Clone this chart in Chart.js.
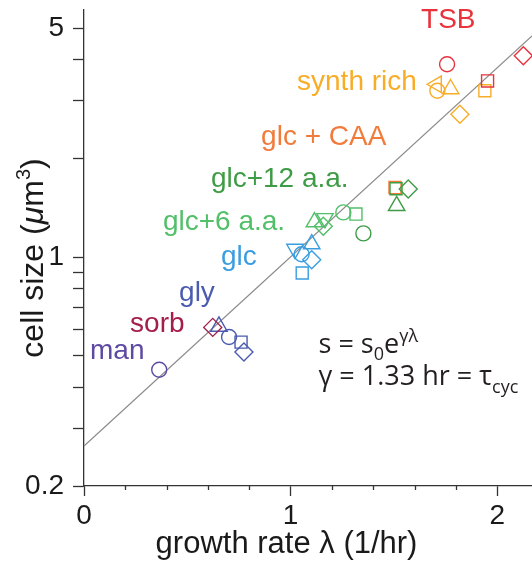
<!DOCTYPE html>
<html>
<head>
<meta charset="utf-8">
<script src="https://cdn.jsdelivr.net/npm/chart.js@4.4.1/dist/chart.umd.min.js"></script>
<style>
  html, body { margin: 0; padding: 0; background: #fff; }
  #wrap { width: 532px; height: 571px; }
</style>
</head>
<body>
<div id="wrap"><canvas id="chart" width="532" height="571"></canvas></div>
<script>
// Cell size vs growth rate for several growth media.
// Fit line: s = s0 * exp(gamma * lambda)
const fitS0 = 0.265;
const fitGamma = 1.33;

const rateRange = [0, 2.168];
const sizeRange = [0.2, 5.68];
const rateTicks = [0, 0.2, 0.4, 0.6, 0.8, 1, 1.2, 1.4, 1.6, 1.8, 2];
const rateTickLabels = [0, 1, 2];
const sizeTicks = [0.2, 0.3, 0.4, 0.5, 0.6, 0.7, 0.8, 0.9, 1, 2, 3, 4, 5];
const sizeTickLabels = [0.2, 1, 5];

const media = ['TSB', 'synth rich', 'glc + CAA', 'glc+12 a.a.', 'glc+6 a.a.', 'glc', 'gly', 'sorb', 'man'];

// growth rate (1/hr), cell size (µm³), marker per measurement
const tsbRate = [1.757, 1.953, 2.126];
const tsbSize = [3.88, 3.45, 4.12];
const tsbMarker = ['o', 's', 'd'];

const synthRate = [1.706, 1.710, 1.774, 1.940, 1.819];
const synthSize = [3.37, 3.22, 3.26, 3.22, 2.73];
const synthMarker = ['<', 'o', '^', 's', 'd'];

const caaRate = [1.505];
const caaSize = [1.63];
const caaMarker = ['s'];

const aa12Rate = [1.352, 1.510, 1.569, 1.513];
const aa12Size = [1.181, 1.616, 1.613, 1.434];
const aa12Marker = ['o', 's', 'd', '^'];

const aa6Rate = [1.115, 1.166, 1.158, 1.255, 1.316];
const aa6Size = [1.279, 1.313, 1.241, 1.369, 1.353];
const aa6Marker = ['^', 'v', 'd', 'o', 's'];

const glcRate = [1.053, 1.021, 1.102, 1.102, 1.056];
const glcSize = [1.02, 1.058, 1.096, 0.981, 0.894];
const glcMarker = ['o', 'v', '^', 'd', 's'];

const glyRate = [0.653, 0.702, 0.760, 0.774];
const glySize = [0.614, 0.570, 0.550, 0.513];
const glyMarker = ['^', 'o', 's', 'd'];

const sorbRate = [0.623];
const sorbSize = [0.610];
const sorbMarker = ['d'];

const manRate = [0.364];
const manSize = [0.453];
const manMarker = ['o'];

const groups = [
  { name: media[0], rate: tsbRate, size: tsbSize, marker: tsbMarker, color: '#e8323c' },
  { name: media[1], rate: synthRate, size: synthSize, marker: synthMarker, color: '#f8ad28' },
  { name: media[3], rate: aa12Rate, size: aa12Size, marker: aa12Marker, color: '#3f9c46' },
  { name: media[2], rate: caaRate, size: caaSize, marker: caaMarker, color: '#f27a3a' },
  { name: media[4], rate: aa6Rate, size: aa6Size, marker: aa6Marker, color: '#52bf69' },
  { name: media[5], rate: glcRate, size: glcSize, marker: glcMarker, color: '#3a9de0' },
  { name: media[7], rate: sorbRate, size: sorbSize, marker: sorbMarker, color: '#a3204b' },
  { name: media[6], rate: glyRate, size: glySize, marker: glyMarker, color: '#4a5bb0' },
  { name: media[8], rate: manRate, size: manSize, marker: manMarker, color: '#5e4aa3' }
];

const markerStyles = {
  'o': { style: 'circle', rotation: 0, radius: 7.5 },
  's': { style: 'rect', rotation: 0, radius: 8.5 },
  'd': { style: 'rectRot', rotation: 0, radius: 9 },
  '^': { style: 'triangle', rotation: 0, radius: 9.5 },
  'v': { style: 'triangle', rotation: 180, radius: 9.5 },
  '<': { style: 'triangle', rotation: -90, radius: 9.5 }
};

// Where each medium's name is written (rate, size of the text's left baseline point)
const nameSpots = {
  'TSB': [1.631, 5.0],
  'synth rich': [1.031, 3.235],
  'glc + CAA': [0.857, 2.197],
  'glc+12 a.a.': [0.614, 1.636],
  'glc+6 a.a.': [0.382, 1.209],
  'glc': [0.663, 0.945],
  'gly': [0.460, 0.734],
  'sorb': [0.223, 0.590],
  'man': [0.029, 0.488]
};

const scatterSets = groups.map((g, gi) => ({
  type: 'scatter',
  label: g.name,
  data: g.rate.map((r, i) => ({ x: r, y: g.size[i] })),
  pointStyle: g.marker.map(m => markerStyles[m].style),
  pointRotation: g.marker.map(m => markerStyles[m].rotation),
  pointRadius: g.marker.map(m => markerStyles[m].radius),
  pointHoverRadius: g.marker.map(m => markerStyles[m].radius),
  borderColor: g.color,
  backgroundColor: 'rgba(0,0,0,0)',
  pointBorderWidth: 1.4,
  order: gi + 1,
  clip: false
}));

const fitSet = {
  type: 'line',
  label: 'fit',
  data: rateRange.map(r => ({ x: r, y: fitS0 * Math.exp(fitGamma * r) })),
  borderColor: '#8c8c8c',
  borderWidth: 1.2,
  pointRadius: 0,
  fill: false,
  order: 100,
  clip: false
};

function drawRich(ctx, x, y, parts, align) {
  let total = 0;
  parts.forEach(p => { ctx.font = p.font; total += ctx.measureText(p.t).width; });
  let cx = align === 'center' ? x - total / 2 : x;
  parts.forEach(p => {
    ctx.font = p.font;
    ctx.fillText(p.t, cx, y + (p.dy || 0));
    cx += ctx.measureText(p.t).width;
  });
}

const SANS = '"Liberation Sans", Arial, sans-serif';

const annotatePlugin = {
  id: 'annotate',
  afterDraw(chart) {
    const { ctx, scales: { x, y }, chartArea } = chart;
    ctx.save();

    // short minor ticks along the rate axis
    ctx.strokeStyle = '#333';
    ctx.lineWidth = 1.3;
    rateTicks.forEach(v => {
      if (rateTickLabels.includes(v)) return;
      const px = Math.round(x.getPixelForValue(v)) + 0.5;
      ctx.beginPath();
      ctx.moveTo(px, chartArea.bottom);
      ctx.lineTo(px, chartArea.bottom + 4);
      ctx.stroke();
    });

    // medium names
    ctx.textBaseline = 'alphabetic';
    ctx.textAlign = 'left';
    ctx.font = '28px ' + SANS;
    groups.forEach(g => {
      const spot = nameSpots[g.name];
      ctx.fillStyle = g.color;
      ctx.fillText(g.name, x.getPixelForValue(spot[0]), y.getPixelForValue(spot[1]));
    });

    // fit equation
    ctx.fillStyle = '#231f20';
    const big = '27px "Open Sans", ' + SANS;
    const small = '18px "Open Sans", ' + SANS;
    const ex = x.getPixelForValue(1.135);
    drawRich(ctx, ex, y.getPixelForValue(0.51), [
      { t: 's = s', font: big },
      { t: '0', font: small, dy: 7 },
      { t: 'e', font: big },
      { t: 'γλ', font: small, dy: -11 }
    ], 'left');
    drawRich(ctx, ex, y.getPixelForValue(0.408), [
      { t: 'γ = 1.33 hr = τ', font: big },
      { t: 'cyc', font: small, dy: 8 }
    ], 'left');

    // axis titles
    ctx.fillStyle = '#1a1a1a';
    ctx.font = '31px ' + SANS;
    ctx.textAlign = 'center';
    ctx.fillText('growth rate λ (1/hr)', x.getPixelForValue(0.98), 553);
    ctx.textAlign = 'left';

    ctx.save();
    ctx.translate(43, 258);
    ctx.rotate(-Math.PI / 2);
    const tf = '32px ' + SANS;
    drawRich(ctx, 0, 0, [
      { t: 'cell size (', font: tf },
      { t: 'μ', font: 'italic ' + tf },
      { t: 'm', font: tf },
      { t: '3', font: '20px ' + SANS, dy: -13 },
      { t: ')', font: tf }
    ], 'center');
    ctx.restore();

    ctx.restore();
  }
};

Chart.defaults.font.family = SANS;
Chart.defaults.color = '#1a1a1a';

new Chart(document.getElementById('chart'), {
  data: { datasets: [fitSet, ...scatterSets] },
  options: {
    responsive: false,
    animation: false,
    devicePixelRatio: 1,
    layout: { autoPadding: false, padding: { top: 10, left: 0, right: 0, bottom: 0 } },
    plugins: { legend: { display: false }, tooltip: { enabled: false } },
    scales: {
      x: {
        type: 'linear',
        position: 'bottom',
        min: rateRange[0],
        max: rateRange[1],
        afterBuildTicks: s => { s.ticks = rateTicks.map(v => ({ value: v })); },
        afterFit: s => { s.height = 85; s.paddingLeft = 0; s.paddingRight = 0; },
        ticks: {
          autoSkip: false,
          maxRotation: 0,
          padding: 3,
          font: { size: 28 },
          color: '#1a1a1a',
          callback: v => rateTickLabels.includes(v) ? String(v) : ''
        },
        grid: {
          drawOnChartArea: false,
          drawTicks: true,
          tickLength: 10,
          tickWidth: 1.3,
          tickColor: c => (c.tick && rateTickLabels.includes(c.tick.value)) ? '#333' : 'rgba(0,0,0,0)'
        },
        border: { display: true, color: '#333', width: 1.3 },
        title: { display: false }
      },
      y: {
        type: 'logarithmic',
        position: 'left',
        min: sizeRange[0],
        max: sizeRange[1],
        afterBuildTicks: s => { s.ticks = sizeTicks.map(v => ({ value: v })); },
        afterFit: s => { s.width = 84; s.paddingTop = 0; s.paddingBottom = 0; },
        ticks: {
          autoSkip: false,
          padding: 9,
          font: { size: 28 },
          color: '#1a1a1a',
          callback: v => sizeTickLabels.includes(v) ? String(v) : ''
        },
        grid: {
          drawOnChartArea: false,
          drawTicks: true,
          tickLength: 11,
          tickWidth: 1.3,
          tickColor: '#333'
        },
        border: { display: true, color: '#333', width: 1.3 },
        title: { display: false }
      }
    }
  },
  plugins: [annotatePlugin]
});
</script>
</body>
</html>
